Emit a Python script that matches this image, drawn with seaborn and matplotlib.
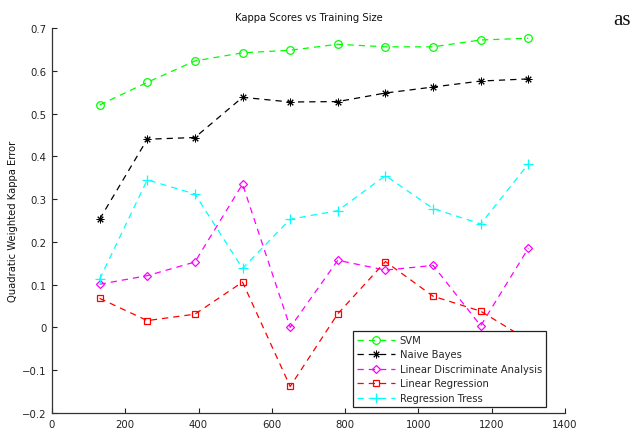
import matplotlib
matplotlib.use("Agg")
import matplotlib.pyplot as plt
import seaborn as sns
import pandas as pd

# Training set sizes and kappa scores per model
training_size = [130, 260, 390, 520, 650, 780, 910, 1040, 1170, 1300]
svm = [0.520, 0.573, 0.623, 0.642, 0.648, 0.662, 0.656, 0.656, 0.672, 0.676]
naive_bayes = [0.253, 0.440, 0.444, 0.538, 0.527, 0.528, 0.548, 0.562, 0.576, 0.581]
lda = [0.101, 0.121, 0.153, 0.335, 0.000, 0.157, 0.134, 0.145, 0.004, 0.185]
linear_regression = [0.068, 0.016, 0.031, 0.106, -0.138, 0.032, 0.154, 0.073, 0.038, -0.030]
regression_trees = [0.113, 0.345, 0.312, 0.138, 0.253, 0.273, 0.355, 0.278, 0.242, 0.382]

series_names = ["SVM", "Naive Bayes", "Linear Discriminate Analysis",
                "Linear Regression", "Regression Tress"]
series_values = [svm, naive_bayes, lda, linear_regression, regression_trees]
series_colors = ["#00ff00", "#000000", "#ff00ff", "#ff0000", "#00ffff"]
# asterisk marker: 8 arms, like a plus overlaid with a cross
series_markers = ["o", (8, 2, 0), "D", "s", "+"]
marker_sizes = [5.5, 5.5, 4.5, 4.8, 7]
marker_edge_widths = [0.9, 0.7, 0.9, 0.9, 0.9]

x_ticks = [0, 200, 400, 600, 800, 1000, 1200, 1400]
y_ticks = [-0.2, -0.1, 0, 0.1, 0.2, 0.3, 0.4, 0.5, 0.6, 0.7]
y_tick_labels = ["\u22120.2", "\u22120.1", "0", "0.1", "0.2", "0.3",
                 "0.4", "0.5", "0.6", "0.7"]

sns.set_style("ticks")
plt.rcParams["font.family"] = ["DejaVu Sans"]

fig = plt.figure(figsize=(6.38, 4.39), dpi=100)
ax = fig.add_axes([52 / 638, 1 - 414 / 439, (565 - 52) / 638, (414 - 29) / 439])

for name, vals, col, mk, ms, mew in zip(series_names, series_values, series_colors,
                                        series_markers, marker_sizes,
                                        marker_edge_widths):
    df = pd.DataFrame({"size": training_size, "kappa": vals})
    sns.lineplot(data=df, x="size", y="kappa", ax=ax, color=col, label=name,
                 linestyle=(0, (5, 4)), linewidth=0.9, marker=mk, markersize=ms,
                 markerfacecolor="none", markeredgecolor=col, markeredgewidth=mew)

ax.set_xlim(0, 1400)
ax.set_ylim(-0.2, 0.7)
ax.set_xticks(x_ticks)
ax.set_yticks(y_ticks)
ax.set_yticklabels(y_tick_labels)
ax.tick_params(direction="in", length=3.5, width=0.8, labelsize=7.3,
               colors="#222222", pad=4)
for side in ["top", "right"]:
    ax.spines[side].set_visible(False)
for side in ["left", "bottom"]:
    ax.spines[side].set_color("#333333")
    ax.spines[side].set_linewidth(0.9)

ax.set_title("Kappa Scores vs Training Size", fontsize=7.2, pad=6, color="#111111")
ax.set_xlabel("Training size", fontsize=7.2, labelpad=6, color="#111111")
ax.set_ylabel("Quadratic Weighted Kappa Error", fontsize=7.2, labelpad=3,
              color="#111111")

leg = ax.legend(loc="lower right", bbox_to_anchor=(546 / 638, 1 - 408 / 439),
                bbox_transform=fig.transFigure, borderaxespad=0, fontsize=7.2,
                handlelength=3.8, handletextpad=0.5, labelspacing=0.45,
                fancybox=False, framealpha=1, edgecolor="#222222",
                borderpad=0.4, numpoints=1)
leg.get_frame().set_linewidth(0.9)

fig.text(613 / 638, 1 - 25 / 439, "as", fontsize=15, family="Liberation Serif",
         color="#111111", va="baseline", ha="left")

fig.savefig("out.png", dpi=100)
